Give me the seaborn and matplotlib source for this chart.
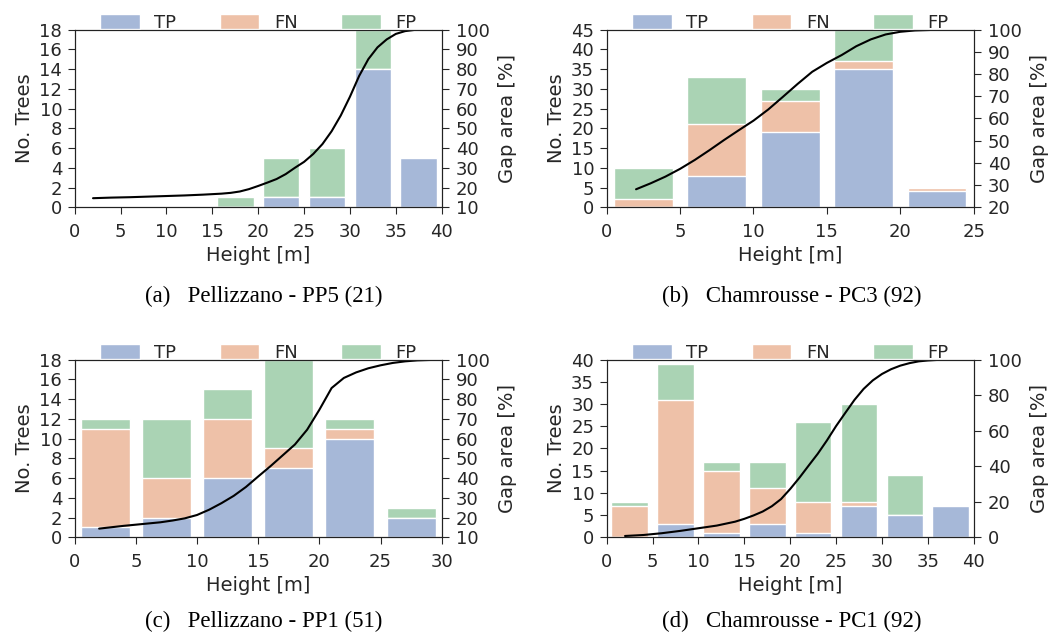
import matplotlib
matplotlib.use("Agg")
import matplotlib.pyplot as plt
from matplotlib.patches import Patch
import seaborn as sns

# Bar centres (5 m height classes) and counts per class
heights_a = [2.5, 7.5, 12.5, 17.5, 22.5, 27.5, 32.5, 37.5]
tp_a = [0, 0, 0, 0, 1, 1, 14, 5]
fn_a = [0, 0, 0, 0, 0, 0, 0, 0]
fp_a = [0, 0, 0, 1, 4, 5, 4, 0]
gap_x_a = [2, 4, 6, 8, 10, 12, 14, 16, 17, 18, 19, 20, 21, 22, 23, 24, 25, 26, 27, 28,
           29, 30, 31, 32, 33, 34, 35, 36, 37]
gap_a = [14.6, 14.9, 15.1, 15.4, 15.7, 16.0, 16.4, 16.9, 17.3, 18.0, 19.2, 20.8, 22.5, 24.3,
         26.8, 30.0, 33.0, 37.0, 42.0, 48.5, 56.5, 66.0, 76.5, 85.0, 91.0, 95.0, 97.8, 99.2, 99.8]

heights_b = [2.5, 7.5, 12.5, 17.5, 22.5]
tp_b = [0, 8, 19, 35, 4]
fn_b = [2, 13, 8, 2, 1]
fp_b = [8, 12, 3, 8, 0]
gap_x_b = [2, 3, 4, 5, 6, 7, 8, 9, 10, 11, 12, 13, 14, 15, 16, 17, 18, 19, 20, 21, 22]
gap_b = [28.1, 30.8, 33.8, 37.3, 41.3, 45.7, 50.3, 54.7, 59.0, 64.0, 69.7, 75.5, 81.0,
         85.0, 88.5, 92.5, 95.6, 97.8, 99.0, 99.6, 99.8]

heights_c = [2.5, 7.5, 12.5, 17.5, 22.5, 27.5]
tp_c = [1, 2, 6, 7, 10, 2]
fn_c = [10, 4, 6, 2, 1, 0]
fp_c = [1, 6, 3, 9, 1, 1]
gap_x_c = [2, 3, 4, 5, 6, 7, 8, 9, 10, 11, 12, 13, 14, 15, 16, 17, 18, 19, 20, 21, 22,
           23, 24, 25, 26, 27, 28, 29, 29.5]
gap_c = [14.4, 15.1, 15.8, 16.4, 17.0, 17.6, 18.5, 19.6, 21.3, 24.0, 27.3, 31.0, 35.5,
         40.8, 46.0, 51.5, 57.0, 64.5, 74.6, 85.6, 90.7, 93.5, 95.6, 97.1, 98.3, 99.1,
         99.6, 99.8, 99.9]

heights_d = [2.5, 7.5, 12.5, 17.5, 22.5, 27.5, 32.5, 37.5]
tp_d = [0, 3, 1, 3, 1, 7, 5, 7]
fn_d = [7, 28, 14, 8, 7, 1, 0, 0]
fp_d = [1, 8, 2, 6, 18, 22, 9, 0]
gap_x_d = [2, 4, 6, 8, 10, 12, 14, 15, 16, 17, 18, 19, 20, 21, 22, 23, 24, 25, 26, 27,
           28, 29, 30, 31, 32, 33, 34, 35, 36, 38]
gap_d = [0.75, 1.3, 2.3, 3.6, 5.1, 6.6, 8.8, 10.4, 12.3, 14.5, 17.5, 21.5, 27.2, 33.5,
         40.3, 47.0, 54.5, 62.6, 70.0, 77.3, 83.5, 88.3, 91.9, 94.6, 96.6, 98.0, 99.0,
         99.5, 99.8, 100]

captions = ["(a)   Pellizzano - PP5 (21)", "(b)   Chamrousse - PC3 (92)",
            "(c)   Pellizzano - PP1 (51)", "(d)   Chamrousse - PC1 (92)"]

sns.set_style("ticks")
plt.rcParams["font.family"] = ["DejaVu Sans"]

# deep palette at 50% on white
c_tp = "#a6b8d8"
c_fn = "#eec1a8"
c_fp = "#aad3b4"

fig = plt.figure(figsize=(10.56, 6.37), dpi=100)

panels = [
    (heights_a, tp_a, fn_a, fp_a, gap_x_a, gap_a, (0, 40), (0, 18, 2), (10, 100, 10), (0.0707, 0.6746)),
    (heights_b, tp_b, fn_b, fp_b, gap_x_b, gap_b, (0, 25), (0, 45, 5), (20, 100, 10), (0.5745, 0.6746)),
    (heights_c, tp_c, fn_c, fp_c, gap_x_c, gap_c, (0, 30), (0, 18, 2), (10, 100, 10), (0.0707, 0.1565)),
    (heights_d, tp_d, fn_d, fp_d, gap_x_d, gap_d, (0, 40), (0, 40, 5), (0, 100, 20), (0.5745, 0.1565)),
]

for i, (h, tp, fn, fp, gx, gy, xl, yl, y2l, pos) in enumerate(panels):
    ax = fig.add_axes([pos[0], pos[1], 0.3476, 0.279])
    tot = [a + b + c for a, b, c in zip(tp, fn, fp)]
    tpfn = [a + b for a, b in zip(tp, fn)]
    # stacked bars: draw totals first, then overlay lower parts
    for vals, col in [(tot, c_fp), (tpfn, c_fn), (tp, c_tp)]:
        sns.barplot(x=h, y=vals, ax=ax, native_scale=True, orient="x", color=col,
                    saturation=1, errorbar=None, width=0.8, edgecolor="white", linewidth=1)
    ax.set_xlim(*xl)
    ax.set_ylim(yl[0], yl[1])
    ax.set_xticks(range(xl[0], xl[1] + 1, 5))
    ax.set_yticks(range(yl[0], yl[1] + 1, yl[2]))
    ax.set_xlabel("Height [m]", fontsize=14, labelpad=4)
    ax.set_ylabel("No. Trees", fontsize=14, labelpad=4)
    ax.tick_params(axis="x", labelsize=13, length=5, pad=6)
    ax.tick_params(axis="y", labelsize=13, length=5, pad=4)
    for s in ax.spines.values():
        s.set_color("#222222")

    ax2 = ax.twinx()
    sns.lineplot(x=gx, y=gy, ax=ax2, color="black", linewidth=1.5)
    ax2.set_ylim(y2l[0], y2l[1])
    ax2.set_yticks(range(y2l[0], y2l[1] + 1, y2l[2]))
    ax2.set_ylabel("Gap area [%]", fontsize=14, labelpad=6)
    ax2.tick_params(labelsize=13, length=5, pad=5)
    ax2.set_xlim(*xl)
    for s in ax2.spines.values():
        s.set_color("#222222")

    handles = [Patch(facecolor=c, edgecolor="white") for c in (c_tp, c_fn, c_fp)]
    ax.legend(handles, ["TP", "FN", "FP"], loc="lower center", bbox_to_anchor=(0.5, 0.948),
              ncol=3, frameon=False, fontsize=13, handlelength=2.2, handleheight=0.85,
              handletextpad=0.8, columnspacing=2.4, borderaxespad=0)

    cx = 0.25 if i % 2 == 0 else 0.75
    cy = 0.535 if i < 2 else 0.0245
    fig.text(cx, cy, captions[i], ha="center", va="center",
             family="Liberation Serif", fontsize=16.5, color="black")

fig.savefig("out.png", dpi=100)
